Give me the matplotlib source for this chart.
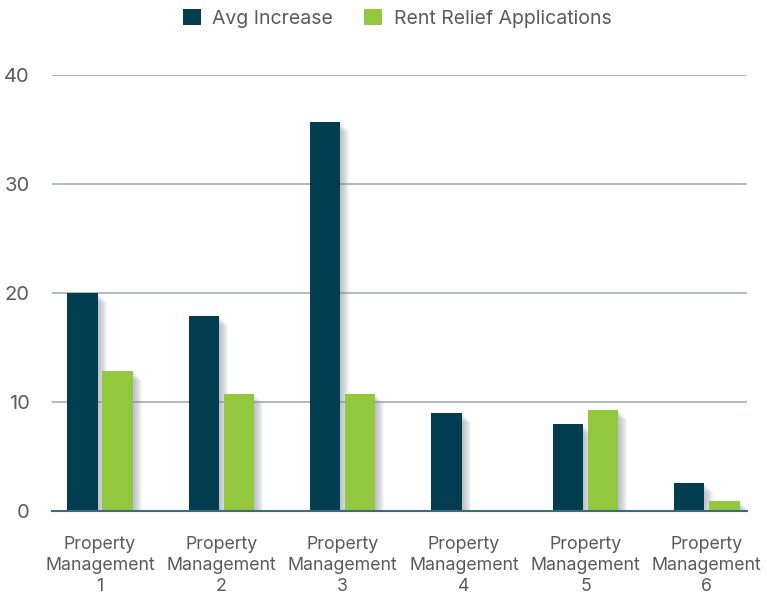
import matplotlib.pyplot as plt
import numpy as np

categories = ['Property\nManagement\n1', 'Property\nManagement\n2', 'Property\nManagement\n3',
              'Property\nManagement\n4', 'Property\nManagement\n5', 'Property\nManagement\n6']
avg_increase = [20.0, 17.9, 35.7, 9.0, 8.0, 2.6]
rent_relief = [12.8, 10.7, 10.7, 0.0, 9.3, 0.9]
series_names = ['Avg Increase', 'Rent Relief Applications']
colors = ['#023e50', '#93c83e']

plt.rcParams['font.family'] = ['Inter', 'DejaVu Sans']

fig = plt.figure(figsize=(7.67, 5.94), dpi=100)
ax = fig.add_axes([0.0678, 0.1397, 0.906, 0.734])

x = np.arange(len(categories))
w = 0.25
off = 0.145

# soft drop shadow to the right of each bar
px_x = 1 / 121.4
px_y = 1 / 10.9
for vals, dx in ((avg_increase, -off), (rent_relief, off)):
  for k in range(1, 10):
    hs = [max(v - k * px_y, 0) for v in vals]
    ax.bar(x + dx + k * px_x, hs, w, color='#7a8796', alpha=0.07, zorder=1, linewidth=0)

ax.bar(x - off, avg_increase, w, color=colors[0], label=series_names[0], zorder=3)
ax.bar(x + off, rent_relief, w, color=colors[1], label=series_names[1], zorder=3)

ax.set_xlim(-0.395, 5.33)
ax.set_ylim(0, 40)
ax.set_yticks([0, 10, 20, 30, 40])
ax.yaxis.grid(True, color='#a4adb6', linewidth=1.2, zorder=0)
ax.set_axisbelow(True)
for s in ['top', 'right', 'left']:
  ax.spines[s].set_visible(False)
ax.spines['bottom'].set_color('#3d6b7a')
ax.spines['bottom'].set_linewidth(1.5)
ax.spines['bottom'].set_zorder(4)

ax.set_xticks(x)
ax.set_xticklabels(categories, fontsize=12.8, color='#5a5a5a', linespacing=1.3)
ax.tick_params(axis='x', length=0, pad=18)
ax.tick_params(axis='y', length=0, pad=16, labelsize=14.5, labelcolor='#5a5a5a')

fig.legend(loc='upper center', bbox_to_anchor=(0.518, 1.014), ncol=2, frameon=False,
           fontsize=14, handlelength=0.9, handleheight=0.9, columnspacing=1.6,
           handletextpad=0.6, labelcolor='#5a5a5a')

plt.savefig('out.png', dpi=100)
